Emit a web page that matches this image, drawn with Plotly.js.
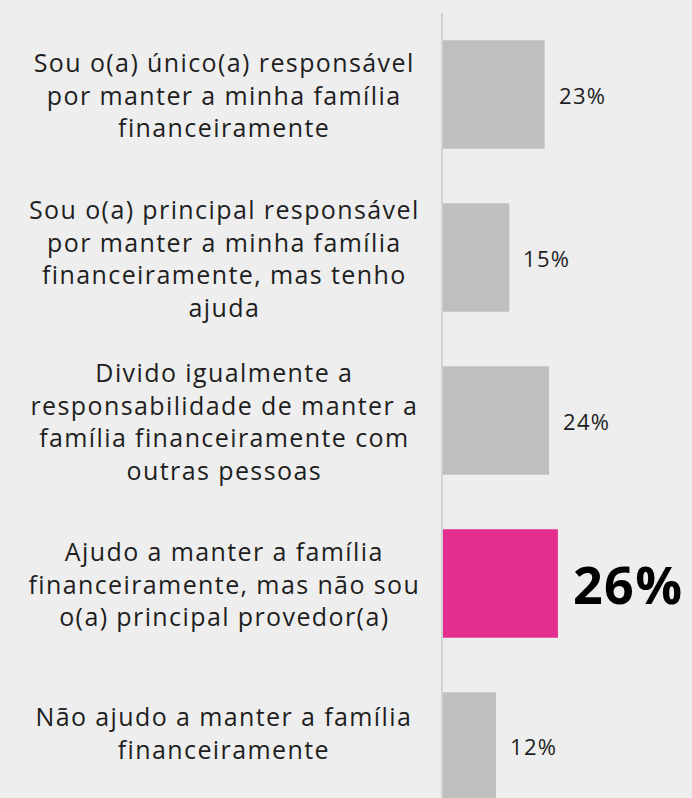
<!DOCTYPE html>
<html>
<head>
<meta charset="utf-8">
<script src="https://cdn.plot.ly/plotly-3.0.1.min.js"></script>
<style>
html,body{margin:0;padding:0;background:#eeeeee;}
#chart{width:692px;height:798px;}
#chart .annotation-text{letter-spacing:1.4px;}
</style>
</head>
<body>
<div id="chart"></div>
<script>
// Data
var categories = [
  "Sou o(a) único(a) responsável<br>por manter a minha família<br>financeiramente",
  "Sou o(a) principal responsável<br>por manter a minha família<br>financeiramente, mas tenho<br>ajuda",
  "Divido igualmente a<br>responsabilidade de manter a<br>família financeiramente com<br>outras pessoas",
  "Ajudo a manter a família<br>financeiramente, mas não sou<br>o(a) principal provedor(a)",
  "Não ajudo a manter a família<br>financeiramente"
];
var values = [23, 15, 24, 26, 12];
var valueLabels = ["23%", "15%", "24%", "26%", "12%"];
var highlightIndex = 3;

// Styles
var FONT = "Open Sans, sans-serif";
var grey = "#bfbfbf", pink = "#e32e8f";
var colors = values.map(function(v, i){ return i === highlightIndex ? pink : grey; });

var W = 692, H = 798, L = 443, T = 13;
var plotW = W - L;
var pxPerUnit = 4.42;

var annotations = [];
categories.forEach(function(c, i){
  annotations.push({
    xref: "paper", yref: "y", x: -(L - 224) / plotW, y: c,
    xanchor: "center", yanchor: "middle", align: "center",
    text: c, showarrow: false,
    yshift: i === 4 ? 14 : 0,
    font: {family: FONT, size: 25, color: "#1e1e1e"}
  });
  var hl = i === highlightIndex;
  annotations.push({
    xref: "x", yref: "y", x: values[i], y: c,
    xanchor: "left", yanchor: "middle",
    xshift: hl ? 15 : 14,
    text: hl ? "<b>" + valueLabels[i] + "</b>" : valueLabels[i],
    showarrow: false,
    font: {family: FONT, size: hl ? 52 : 22, color: hl ? "#000000" : "#1e1e1e"}
  });
});

var trace = {
  type: "bar", orientation: "h",
  x: values, y: categories,
  width: 0.665,
  marker: {color: colors},
  hoverinfo: "none"
};

var layout = {
  width: W, height: H,
  margin: {l: L, r: 0, t: T, b: 0, pad: 0},
  paper_bgcolor: "#eeeeee", plot_bgcolor: "#eeeeee",
  showlegend: false,
  xaxis: {range: [0, plotW / pxPerUnit], showgrid: false, zeroline: false, showticklabels: false, showline: false},
  yaxis: {type: "category", range: [4.316, -0.5], showgrid: false, zeroline: false, showticklabels: false,
          showline: true, linecolor: "#d2d2d2", linewidth: 2, ticks: ""},
  annotations: annotations
};

Plotly.newPlot("chart", [trace], layout, {displayModeBar: false, staticPlot: true});
</script>
</body>
</html>
